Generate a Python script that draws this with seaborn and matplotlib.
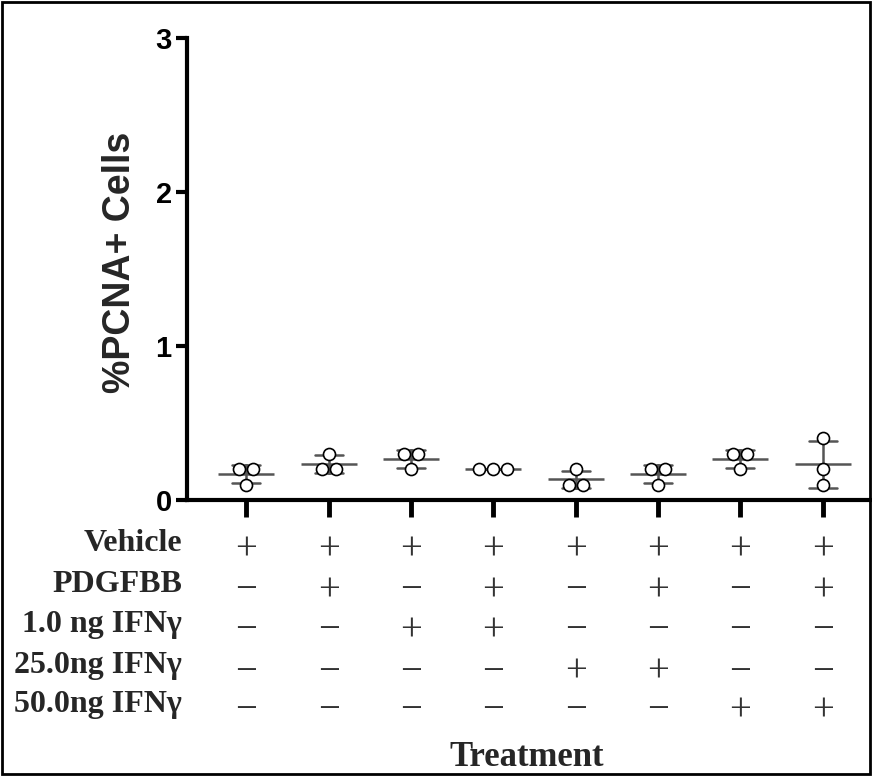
import matplotlib
matplotlib.use("Agg")
import matplotlib.pyplot as plt
import matplotlib.transforms as mtransforms
from matplotlib.patches import Rectangle
import pandas as pd
import seaborn as sns

# Data (3 replicates per group)
groups = ["G1", "G2", "G3", "G4", "G5", "G6", "G7", "G8"]
g1 = [0.2, 0.2, 0.1]
g2 = [0.3, 0.2, 0.2]
g3 = [0.3, 0.3, 0.2]
g4 = [0.2, 0.2, 0.2]
g5 = [0.2, 0.1, 0.1]
g6 = [0.2, 0.2, 0.1]
g7 = [0.3, 0.3, 0.2]
g8 = [0.4, 0.2, 0.1]

# treatment table below the axis
row_labels = ["Vehicle", "PDGFBB", "1.0 ng IFN\u03b3", "25.0ng IFN\u03b3", "50.0ng IFN\u03b3"]
vehicle = "++++++++"
pdgfbb = "-+-+-+-+"
ifn_1 = "--++----"
ifn_25 = "----++--"
ifn_50 = "------++"

values = [g1, g2, g3, g4, g5, g6, g7, g8]
df = pd.DataFrame({
    "group": [g for g, v in zip(groups, values) for _ in v],
    "pos": [i for i, v in enumerate(values) for _ in v],
    "value": [x for v in values for x in v],
})

# spread tied values side by side around the group centre (GraphPad style)
step = 0.17
df["rank"] = df.groupby(["group", "value"]).cumcount()
df["ties"] = df.groupby(["group", "value"])["value"].transform("size")
df["xpos"] = df["pos"] + (df["rank"] - (df["ties"] - 1) / 2) * step

sns.set_style("ticks")
plt.rcParams['font.family'] = ['Liberation Sans', 'DejaVu Sans']

fig = plt.figure(figsize=(8.72, 7.76), dpi=100)
ax = fig.add_axes([0.2144, 0.3557, 0.7856, 0.595])

# mean +/- SD
sns.pointplot(data=df, x="group", y="value", order=groups, errorbar="sd",
              capsize=0.34, color="#555555", linestyle="none", marker="_",
              markersize=40, markeredgewidth=1.8, err_kws={"linewidth": 1.8},
              ax=ax)
# individual points
sns.scatterplot(data=df, x="xpos", y="value", s=75, color="white",
                edgecolor="black", linewidth=1.2, zorder=3, ax=ax)

ax.set_xlim(-0.72, 7.6)
ax.set_ylim(0, 3)
ax.set_yticks([0, 1, 2, 3])
ax.set_xticks(range(len(groups)))
ax.set_xticklabels([])
ax.set_xlabel("")
ax.set_ylabel("%PCNA+ Cells", fontsize=27, fontweight="bold")
ax.yaxis.set_label_coords(-0.072, 0.515)
for lab in ax.get_yticklabels():
    lab.set_fontsize(21)
    lab.set_fontweight("bold")
sns.despine(ax=ax)
for s in ["left", "bottom"]:
    ax.spines[s].set_linewidth(3)
    ax.spines[s].set_color("black")
ax.tick_params(axis="y", width=3, length=8, pad=3, colors="black")
ax.tick_params(axis="x", width=3.5, length=12, colors="black")

# treatment table
trans = mtransforms.blended_transform_factory(ax.transData, fig.transFigure)
rows = [vehicle, pdgfbb, ifn_1, ifn_25, ifn_50]
row_y = [550, 591, 631, 672, 711]
sign = {"+": "+", "-": "\u2212"}
for label, row, yp in zip(row_labels, rows, row_y):
    yf = 1 - yp / 776
    fig.text(182 / 872, yf + 0.008, label, ha="right", va="center",
             fontsize=23, fontweight="bold", family="Liberation Serif")
    for i, c in enumerate(row):
        ax.text(i, yf, sign[c], transform=trans, ha="center", va="center",
                fontsize=28, color="#333333", family="Liberation Serif",
                clip_on=False)

fig.text(527 / 872, 1 - 758 / 776, "Treatment", ha="center", va="center",
         fontsize=25, fontweight="bold", family="Liberation Serif")

# frame around the figure
fig.patches.append(Rectangle((0.002, 0.002), 0.996, 0.996, transform=fig.transFigure,
                             fill=False, lw=2, ec="black"))

fig.savefig("out.png", dpi=100)
